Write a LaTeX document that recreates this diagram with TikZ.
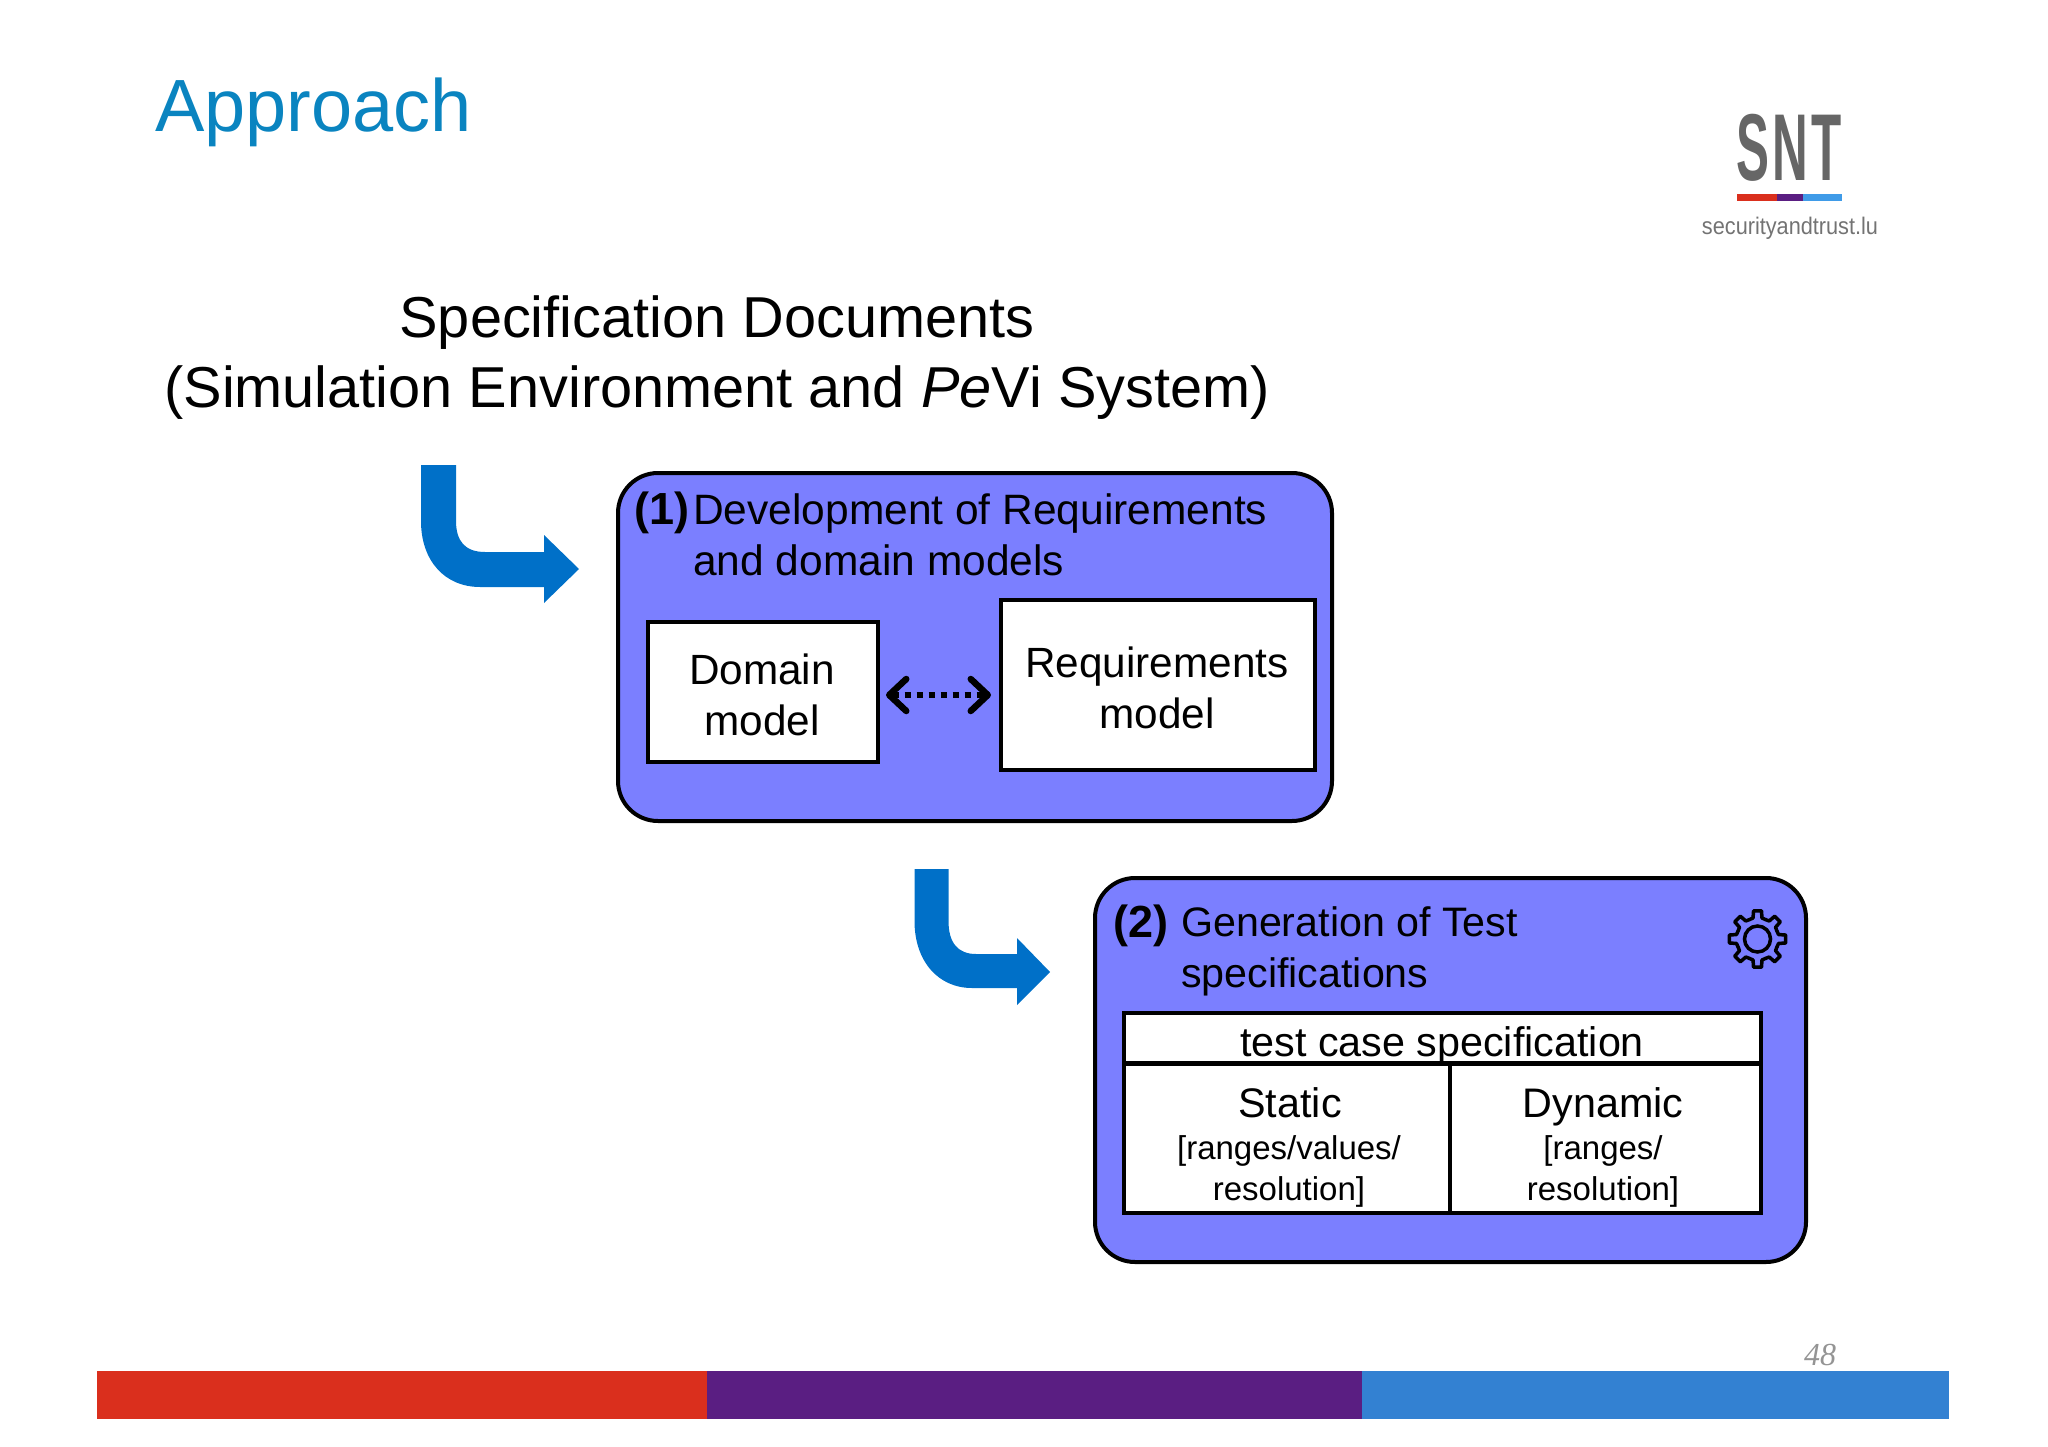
\documentclass[tikz,border=0pt]{standalone}
\usepackage{fontspec}
\setmainfont{Liberation Sans}
\newfontfamily\serifnum{Liberation Serif}
\newfontfamily\logofont[LetterSpace=6]{Liberation Sans}
\usetikzlibrary{arrows.meta}
\definecolor{panel}{HTML}{7B7FFF}
\definecolor{flowblue}{HTML}{0070C8}
\definecolor{titleblue}{HTML}{0A84C0}
\definecolor{barred}{HTML}{DA2F1D}
\definecolor{barpurple}{HTML}{5A1E82}
\definecolor{barblue}{HTML}{3381D2}
\definecolor{logoblue}{HTML}{3F9BE8}
\newcommand{\fs}[2]{\fontsize{#1}{#2}\selectfont}
\tikzset{
  panelbox/.style={draw=black,fill=panel,line width=4pt,rounded corners=40pt,inner sep=0pt},
  whitebox/.style={draw=black,fill=white,line width=4pt,inner sep=0pt},
  boxtext/.style={inner sep=0pt,align=center,font=\fs{42.3}{51}},
  subtext/.style={inner sep=0pt,align=center,font=\fs{33}{41}},
  headtext/.style={inner sep=0pt,align=left,anchor=base west},
  numtext/.style={inner sep=0pt,anchor=base west,font=\fs{45}{51}\bfseries},
  flow/.style={fill=flowblue,draw=none},
}
\begin{document}
\begin{tikzpicture}[x=1pt,y=-1pt]
\useasboundingbox (0,0) rectangle (2048,1447);
% title
\node[inner sep=0pt,anchor=base west,text=titleblue,font=\fs{74}{80}] (title) at (155,132) {Approach};
% logo
\node[inner sep=0pt,text=black!60,font=\fs{95}{95}\logofont\bfseries,xscale=.52,anchor=base] (snt) at (1789,181) {SNT};
\fill[barred] (1737,194) rectangle (1777,201);
\fill[barpurple] (1777,194) rectangle (1803,201);
\fill[logoblue] (1803,194) rectangle (1842,201);
\node[inner sep=0pt,text=black!55,font=\fs{24}{24},xscale=.904,anchor=base] (site) at (1790,235) {securityandtrust.lu};
% heading
\node[inner sep=0pt,align=center,font=\fs{57.7}{70}] (spec) at (717,358) {Specification Documents\\(Simulation Environment and \textit{Pe}Vi System)};
% flow arrows
\path[flow] (421,465) -- (421,521) .. controls (421,561) and (445,587) .. (480,587)
  -- (544,587) -- (544,603) -- (579,569) -- (544,535) -- (544,552) -- (485,552)
  .. controls (465,552) and (456,541) .. (456,521) -- (456,465) -- cycle;
\path[flow] (914.5,869) -- (914.5,921) .. controls (914.5,961) and (938,988) .. (972,988)
  -- (1017,988) -- (1017,1005) -- (1050,972) -- (1017,938) -- (1017,954) -- (976,954)
  .. controls (958,954) and (948.5,943) .. (948.5,921) -- (948.5,869) -- cycle;
% panel 1
\node[panelbox,minimum width=714pt,minimum height=348pt] (p1) at (975,647) {};
\node[numtext] (n1) at (634,524) {(1)};
\node[headtext,font=\fs{42.5}{51}] (h1) at (693,575) {Development of Requirements\\and domain models};
\node[whitebox,minimum width=230pt,minimum height=140pt] (domain) at (763,692) {};
\node[whitebox,minimum width=314pt,minimum height=170pt] (req) at (1158,685) {};
\node[boxtext] (domaint) at (762,695) {Domain\\model};
\node[boxtext] (reqt) at (1157,688) {Requirements\\model};
\draw[line width=6.5pt,dash pattern=on 6pt off 6pt,{Straight Barb[length=17pt,width=32pt,line cap=round,line join=round]}-{Straight Barb[length=17pt,width=32pt,line cap=round,line join=round]}]
  ([shift={(6,3)}]domain.east) -- ([shift={(-8,10)}]req.west);
% panel 2
\node[panelbox,minimum width=711pt,minimum height=384pt] (p2) at (1450.5,1070) {};
\node[numtext] (n2) at (1113,937) {(2)};
\node[headtext,font=\fs{41.2}{51}] (h2) at (1181,987) {Generation of Test\\specifications};
% gear
\begin{scope}[shift={(1757.5,939)}]
  \foreach \a in {0,45,...,315}
    \draw[line width=3.5pt,line join=round,line cap=round]
      (\a-22.5:21) -- (\a-12:21.5) -- (\a-8:28.5) -- (\a+8:28.5) -- (\a+12:21.5) -- (\a+22.5:21);
  \draw[line width=3.5pt] (0,0) circle[radius=13];
\end{scope}
% table
\node[whitebox,minimum width=637pt,minimum height=50pt] (thead) at (1442.5,1038) {};
\node[whitebox,minimum width=326pt,minimum height=149pt] (tstatic) at (1287,1138) {};
\node[whitebox,minimum width=311pt,minimum height=149pt] (tdyn) at (1605.5,1138) {};
\node[inner sep=0pt,anchor=base,font=\fs{41.3}{51}] (theadt) at (1442,1056) {test case specification};
\node[inner sep=0pt,anchor=base,font=\fs{41.3}{51}] (st) at (1290,1117) {Static};
\node[subtext] (sts) at (1289,1171) {[ranges/values/\\resolution]};
\node[inner sep=0pt,anchor=base,font=\fs{41.3}{51}] (dy) at (1603,1117) {Dynamic};
\node[subtext] (dys) at (1603,1171) {[ranges/\\resolution]};
% footer
\fill[barred] (97,1371) rectangle (707,1419);
\fill[barpurple] (707,1371) rectangle (1362,1419);
\fill[barblue] (1362,1371) rectangle (1949,1419);
\node[inner sep=0pt,anchor=base,text=black!42,font=\fs{32}{32}\serifnum\itshape] (page) at (1820,1365) {48};
\end{tikzpicture}
\end{document}
